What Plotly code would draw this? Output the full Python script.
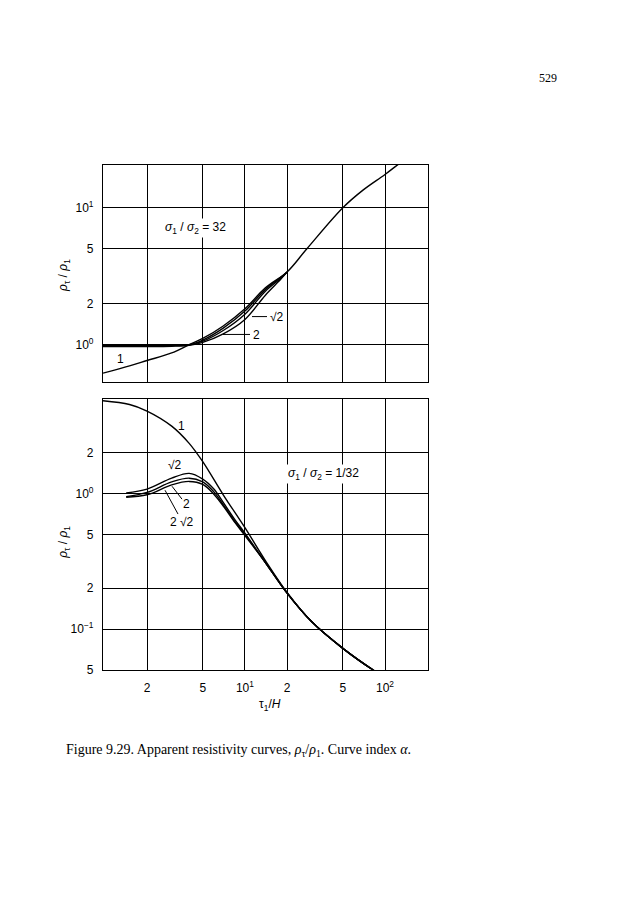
import plotly.graph_objects as go
import math

W, H = 622, 900
OFF = 8  # default body margin of the html page

# ---------------- data ----------------
# Top panel: sigma1/sigma2 = 32
top_x1 = [0.97, 1.5, 2, 3, 4, 5, 7, 10, 14, 20, 27.6, 50, 70, 100, 130, 200]
top_y1 = [0.62, 0.70, 0.766, 0.87, 1.0, 1.11, 1.37, 1.83, 2.6, 3.4, 5.0, 10.0, 13.5, 17.5, 21.5, 30.0]
top_xb = [0.97, 2, 3, 4, 5, 7, 10, 14, 18, 20]
top_y_sqrt2 = [1.0, 1.0, 1.0, 1.0, 1.08, 1.32, 1.76, 2.53, 3.1, 3.4]
top_y_2 = [0.985, 0.985, 0.985, 0.995, 1.06, 1.27, 1.67, 2.46, 3.05, 3.4]
top_y_2sqrt2 = [0.97, 0.97, 0.975, 0.99, 1.04, 1.2, 1.53, 2.3, 3.0, 3.4]

# Bottom panel: sigma1/sigma2 = 1/32
bot_x1 = [0.97, 1.5, 2, 3, 4, 5, 7, 10, 14, 20, 30, 50, 82, 120]
bot_y1 = [4.85, 4.55, 4.07, 3.15, 2.35, 1.72, 0.98, 0.56, 0.32, 0.186, 0.113, 0.072, 0.05, 0.038]
bot_xb = [1.42, 2, 3, 4, 5, 6, 7, 8.5, 10, 14, 20, 30, 50, 82, 120]
bot_y_sqrt2 = [1.01, 1.08, 1.30, 1.41, 1.28, 1.08, 0.86, 0.64, 0.51, 0.31, 0.184, 0.113, 0.072, 0.05, 0.04]
bot_y_2 = [0.95, 1.02, 1.22, 1.30, 1.22, 1.03, 0.83, 0.62, 0.50, 0.31, 0.184, 0.113, 0.072, 0.05, 0.04]
bot_y_2sqrt2 = [0.94, 0.98, 1.16, 1.23, 1.17, 0.99, 0.81, 0.61, 0.49, 0.31, 0.184, 0.113, 0.072, 0.05, 0.04]

x_ticks = [2, 5, 10, 20, 50, 100]
x_ticktext = ["2", "5", "10<sup>1</sup>", "2", "5", "10<sup>2</sup>"]
top_yticks = [1, 2, 5, 10]
top_yticktext = ["10<sup>0</sup>", "2", "5", "10<sup>1</sup>"]
bot_yticks = [0.05, 0.1, 0.2, 0.5, 1, 2]
bot_yticktext = ["5", "10<sup>\u22121</sup>", "2", "5", "10<sup>0</sup>", "2"]

# ---------------- layout helpers (page pixel -> paper) ----------------
def px(x):
    return (x - OFF) / W

def py(y):
    return 1 - (y - OFF) / H

LEFT, RIGHT = 103, 428
TOP_T, TOP_B = 166, 385
BOT_T, BOT_B = 402, 675

FONT = "Liberation Sans, Arial, sans-serif"
SERIF = "Liberation Serif, Times New Roman, serif"
line = dict(color="black", width=1.4, shape="spline", smoothing=1.0)

fig = go.Figure()

for xs, ys in [(top_x1, top_y1), (top_xb, top_y_sqrt2), (top_xb, top_y_2), (top_xb, top_y_2sqrt2)]:
    fig.add_trace(go.Scatter(x=xs, y=ys, mode="lines", line=line,
                             xaxis="x", yaxis="y", showlegend=False, hoverinfo="skip"))
for xs, ys in [(bot_x1, bot_y1), (bot_xb, bot_y_sqrt2), (bot_xb, bot_y_2), (bot_xb, bot_y_2sqrt2)]:
    fig.add_trace(go.Scatter(x=xs, y=ys, mode="lines", line=line,
                             xaxis="x2", yaxis="y2", showlegend=False, hoverinfo="skip"))

axis_common = dict(type="log", showgrid=True, gridcolor="black", gridwidth=1,
                   showline=True, linecolor="black", linewidth=1.2, mirror=True,
                   ticks="", zeroline=False, tickfont=dict(family=FONT, size=12, color="black"))
xrange = [math.log10(0.97), 2.307]

fig.update_layout(
    width=W, height=H, margin=dict(l=0, r=0, t=0, b=0),
    paper_bgcolor="white", plot_bgcolor="white",
    xaxis=dict(axis_common, domain=[px(LEFT), px(RIGHT)], range=xrange, anchor="y",
               tickvals=x_ticks, showticklabels=False),
    yaxis=dict(axis_common, domain=[py(TOP_B), py(TOP_T)], range=[-0.273, 1.314], anchor="x",
               tickvals=top_yticks, ticktext=top_yticktext, ticklabelstandoff=6),
    xaxis2=dict(axis_common, domain=[px(LEFT), px(RIGHT)], range=xrange, anchor="y2",
                tickvals=x_ticks, ticktext=x_ticktext, ticklabelstandoff=7),
    yaxis2=dict(axis_common, domain=[py(BOT_B), py(BOT_T)], range=[math.log10(0.05), math.log10(5)],
                anchor="x2", tickvals=bot_yticks, ticktext=bot_yticktext, ticklabelstandoff=6),
)

anns = []
def text(x, y, s, size=12, family=FONT, angle=0, xanchor="center", bg=None):
    a = dict(x=px(x), y=py(y), xref="paper", yref="paper", text=s, showarrow=False,
             font=dict(family=family, size=size, color="black"), textangle=angle,
             xanchor=xanchor, yanchor="middle")
    if bg:
        a["bgcolor"] = bg
    anns.append(a)

# top panel labels
text(195, 230, "<i>\u03c3</i><sub>1</sub> / <i>\u03c3</i><sub>2</sub> = 32", bg="white")
text(120, 362, "1")
text(277, 319, "\u221a2")
text(256, 338, "2")
# bottom panel labels
text(323, 478, "<i>\u03c3</i><sub>1</sub> / <i>\u03c3</i><sub>2</sub> = 1/32", bg="white")
text(181, 429, "1")
text(175, 469, "\u221a2")
text(186, 508, "2")
text(182, 526, "2 \u221a2")
# axis titles
text(64, 278, "<i>\u03c1</i><sub>\u03c4</sub> / <i>\u03c1</i><sub>1</sub>", angle=-90)
text(64, 547, "<i>\u03c1</i><sub>\u03c4</sub> / <i>\u03c1</i><sub>1</sub>", angle=-90)
text(270, 710, "\u03c4<sub>1</sub>/<i>H</i>")
# page decorations
text(548, 79, "529", size=12, family=SERIF)
text(64, 756, "Figure 9.29. Apparent resistivity curves, <i>\u03c1</i><sub>\u03c4</sub>/<i>\u03c1</i><sub>1</sub>. Curve index <i>\u03b1</i>.",
     size=14, family=SERIF, xanchor="left")

shapes = []
def seg(x0, y0, x1, y1):
    shapes.append(dict(type="line", xref="paper", yref="paper", x0=px(x0), y0=py(y0), x1=px(x1), y1=py(y1),
                       line=dict(color="black", width=1)))

seg(252, 319, 267, 319)
seg(223, 337, 250, 337)
seg(172, 490, 182, 503)
seg(165, 494, 178, 518)

fig.update_layout(annotations=anns, shapes=shapes)
fig.write_html("out.html")
